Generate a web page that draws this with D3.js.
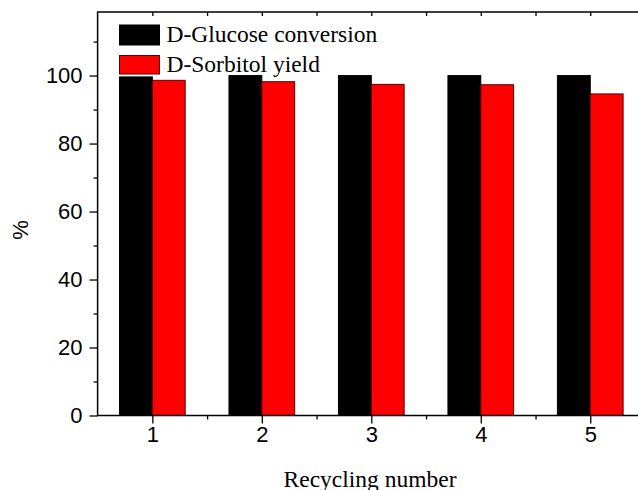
<!DOCTYPE html>
<meta charset="utf-8">
<style>
body { margin: 0; background: #fff; }
svg { display: block; }
.axis path, .axis line { stroke: #000; stroke-width: 1.3; }
.axis text { font-family: "Liberation Sans", Arial, sans-serif; font-size: 22px; fill: #000; }
.serif { font-family: "Liberation Serif", "Times New Roman", serif; fill: #000; }
</style>
<svg width="638" height="490"></svg>
<script src="https://cdnjs.cloudflare.com/ajax/libs/d3/7.8.5/d3.min.js"></script>
<script>

var cycles = [1, 2, 3, 4, 5];
var conversion = [99.6, 100, 100, 100, 100];
var sorbitolYield = [98.6, 98.2, 97.4, 97.3, 94.6];
var yTicks = [0, 20, 40, 60, 80, 100];
var yMinor = [10, 30, 50, 70, 90, 110];
var xMinor = [1.5, 2.5, 3.5, 4.5];
var seriesNames = ["D-Glucose conversion", "D-Sorbitol yield"];
var seriesColors = ["#000000", "#ff0000"];

var svg = d3.select("svg");
var pLeft = 97.6, pRight = 645, pTop = 12, pBottom = 415.5;

var x = d3.scaleLinear().domain([0.5, 5.5]).range([pLeft, pRight]);
var y = d3.scaleLinear().domain([0, 118.7]).range([pBottom, pTop]);
var barW = x(1.3) - x(1);

var data = cycles.map(function(c, i) { return {c: c, v: [conversion[i], sorbitolYield[i]]}; });

// bars
var grp = svg.append("g");
data.forEach(function(d) {
  d.v.forEach(function(v, k) {
    grp.append("rect")
      .attr("x", x(d.c) + (k - 1) * barW)
      .attr("y", y(v))
      .attr("width", barW)
      .attr("height", pBottom - y(v))
      .attr("fill", seriesColors[k])
      .attr("stroke", k == 0 ? "#000" : "#5a0000")
      .attr("stroke-width", 1);
  });
});

// frame
svg.append("rect")
  .attr("x", pLeft).attr("y", pTop)
  .attr("width", pRight - pLeft).attr("height", pBottom - pTop)
  .attr("fill", "none").attr("stroke", "#000").attr("stroke-width", 1.5);

// bottom axis
svg.append("g").attr("class", "axis")
  .attr("transform", "translate(0," + pBottom + ")")
  .call(d3.axisBottom(x).tickValues(cycles).tickFormat(d3.format("d")).tickSize(8).tickPadding(3).tickSizeOuter(0));
svg.append("g").attr("class", "axis")
  .attr("transform", "translate(0," + pBottom + ")")
  .call(d3.axisBottom(x).tickValues(xMinor).tickFormat("").tickSize(4).tickSizeOuter(0));

// top axis, inward ticks
svg.append("g").attr("class", "axis")
  .attr("transform", "translate(0," + pTop + ")")
  .call(d3.axisTop(x).tickValues(cycles.concat(xMinor)).tickFormat("").tickSize(-4).tickSizeOuter(0));

// left axis
svg.append("g").attr("class", "axis")
  .attr("transform", "translate(" + pLeft + ",0)")
  .call(d3.axisLeft(y).tickValues(yTicks).tickSize(8).tickPadding(7).tickSizeOuter(0));
svg.append("g").attr("class", "axis")
  .attr("transform", "translate(" + pLeft + ",0)")
  .call(d3.axisLeft(y).tickValues(yMinor).tickFormat("").tickSize(4).tickSizeOuter(0));

svg.selectAll(".axis .domain").remove();

// axis titles
svg.append("text").attr("class", "serif")
  .attr("x", 370).attr("y", 487)
  .attr("text-anchor", "middle").style("font-size", "23.5px")
  .text("Recycling number");

svg.append("text")
  .attr("transform", "translate(28,230) rotate(-90)")
  .attr("text-anchor", "middle")
  .style("font-family", "'Liberation Sans', Arial, sans-serif")
  .style("font-size", "22px")
  .text("%");

// legend
var leg = svg.append("g");
seriesNames.forEach(function(n, k) {
  leg.append("rect")
    .attr("x", 119.5).attr("y", 25 + k * 30.5)
    .attr("width", 40).attr("height", k == 0 ? 20 : 18.5)
    .attr("fill", seriesColors[k])
    .attr("stroke", k == 0 ? "#000" : "#5a0000").attr("stroke-width", 1);
  leg.append("text").attr("class", "serif")
    .attr("x", 166.5).attr("y", 42 + k * 30)
    .style("font-size", "23.5px")
    .text(n);
});

</script>
